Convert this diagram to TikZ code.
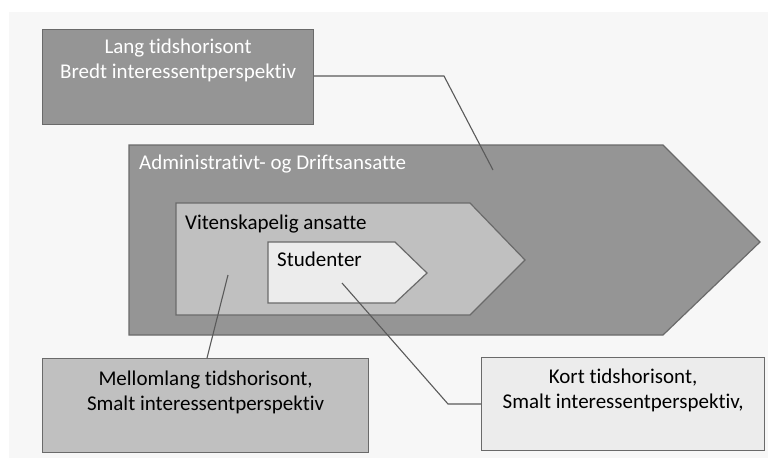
\documentclass[tikz,border=0pt]{standalone}
\usepackage{fontspec}
\setmainfont{Carlito}[Ligatures={NoCommon}]
\usetikzlibrary{positioning}
\definecolor{paper}{HTML}{F7F7F7}
\definecolor{darkfill}{HTML}{959595}
\definecolor{midfill}{HTML}{C0C0C0}
\definecolor{lightfill}{HTML}{ECECEC}
\definecolor{edge}{HTML}{6A6A6A}
\definecolor{leader}{HTML}{5A5A5A}

\begin{document}
\begin{tikzpicture}[
  x=1pt, y=-1pt,
  box/.style={draw=edge, line width=1.2pt, anchor=north west, inner sep=0pt},
  chevron/.style={draw=edge, line width=1.2pt, line join=miter},
  txt/.style={font=\fontsize{21}{25}\selectfont, align=center, inner sep=0pt},
  lbl/.style={font=\fontsize{21}{25}\selectfont, inner sep=0pt, anchor=base west},
  lead/.style={draw=leader, line width=1.1pt}
]
  % frame
  \useasboundingbox (0,0) rectangle (768,461);
  \fill[paper] (9,12) rectangle (768,458);

  % nested arrows
  \filldraw[chevron, fill=darkfill] (129,145) -- (663,145) -- (760,242) -- (663,335) -- (129,335) -- cycle;
  \filldraw[chevron, fill=midfill] (176,203) -- (470,203) -- (525,260) -- (470,315) -- (176,315) -- cycle;
  \filldraw[chevron, fill=lightfill] (268,242) -- (395,242) -- (427,273) -- (395,303) -- (268,303) -- cycle;
  \node[lbl, text=white] (adm) at (139,169) {Administrativt- og Driftsansatte};
  \node[lbl] (vit) at (185,229) {Vitenskapelig ansatte};
  \node[lbl] (stud) at (277,266) {Studenter};

  % callout boxes
  \node[box, fill=darkfill, minimum width=271pt, minimum height=95pt] (lang) at (42,29) {};
  \node[txt, text=white, below=10pt of lang.north] (langtxt) {Lang tidshorisont\\Bredt interessentperspektiv};
  \node[box, fill=midfill, minimum width=326pt, minimum height=94pt] (mello) at (42,358) {};
  \node[txt, below=13pt of mello.north] (mellotxt) {Mellomlang tidshorisont,\\Smalt interessentperspektiv};
  \node[box, fill=lightfill, minimum width=283pt, minimum height=93pt] (kort) at (481,357) {};
  \node[txt, below=12pt of kort.north] (korttxt) {Kort tidshorisont,\\Smalt interessentperspektiv,};

  % leader lines
  \coordinate (admpt) at (493,170);
  \coordinate (vitpt) at (228,275);
  \coordinate (studpt) at (342,283);
  \draw[lead] (lang.east |- 0,76) -- (444,76) -- (admpt);
  \draw[lead] (mello.north -| 207,0) -- (vitpt);
  \draw[lead] (studpt) -- (448,404) -- (kort.west |- 0,404);
\end{tikzpicture}
\end{document}
